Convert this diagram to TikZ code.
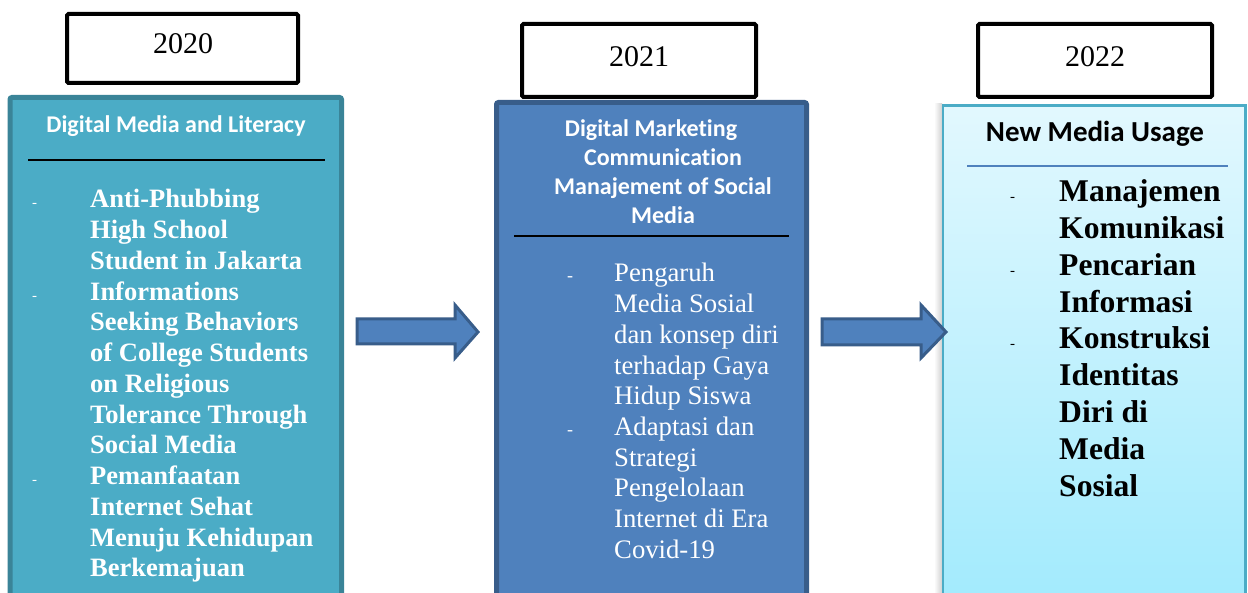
\documentclass[tikz,border=0pt]{standalone}
\usepackage{fontspec}
\setmainfont{Liberation Serif}
\newfontfamily\calibrifont[Ligatures=NoCommon]{Carlito}
\definecolor{tealfill}{HTML}{4BACC6}
\definecolor{tealline}{HTML}{3A8498}
\definecolor{bluefill}{HTML}{4F81BD}
\definecolor{blueline}{HTML}{385D8A}
\definecolor{cyantop}{HTML}{E2F8FE}
\definecolor{cyanbot}{HTML}{A0EAFD}
\tikzset{
  yearbox/.style={draw=black, line width=4pt, fill=white, rounded corners=1.5pt},
  yeartext/.style={font=\fontsize{30}{34}\selectfont, anchor=base, inner sep=0pt},
  boxtitle/.style={font=\calibrifont\bfseries\fontsize{24}{29}\selectfont, anchor=base, inner sep=0pt},
  itemtext/.style={anchor=base west, inner sep=0pt},
  dashmark/.style={font=\fontsize{15}{15}\selectfont, anchor=base west, inner sep=0pt},
  blockarrow/.style={fill=bluefill, draw=blueline, line width=3pt, line join=miter},
}
\begin{document}
\begin{tikzpicture}[x=1pt,y=-1pt]
\useasboundingbox (0,0) rectangle (1248,593);
\clip (0,0) rectangle (1248,593);
\fill[white] (0,0) rectangle (1248,593);

% ---- main boxes
\draw[fill=tealfill, draw=tealline, line width=5pt, rounded corners=2pt] (10,97.5) rectangle (341.5,620);
\draw[fill=bluefill, draw=blueline, line width=5pt, rounded corners=2pt] (496.5,102.5) rectangle (806.5,620);
\shade[left color=white, right color=black!18] (934,104) rectangle (942,620);
\shade[top color=cyantop, bottom color=cyanbot] (943,105.3) rectangle (1245.3,620);
\draw[draw=tealfill, line width=2.5pt] (943,105.3) rectangle (1245.3,620);

% ---- year boxes
\draw[yearbox] (67,14) rectangle (298,83);
\draw[yearbox] (522,24) rectangle (756,97);
\draw[yearbox] (978,24) rectangle (1212,97);
\node[yeartext] (y1) at (183,54) {2020};
\node[yeartext] (y2) at (639,67) {2021};
\node[yeartext] (y3) at (1095,67) {2022};

% ---- box 1
\node[boxtitle, text=white] (t1) at (176,133) {Digital Media and Literacy};
\draw[black, line width=2pt] (28,160.5) -- (325,160.5);
\begin{scope}[every node/.append style={text=white}]
\node[dashmark] (d1a) at (32,208) {-};
\node[dashmark] (d1b) at (32,300.25) {-};
\node[dashmark] (d1c) at (32,484.75) {-};
\node[itemtext, font=\bfseries\fontsize{26.5}{30.75}\selectfont] (i1a) at (90,208)
  {\parbox[t]{250pt}{\raggedright Anti-Phubbing\\High School\\Student in Jakarta}};
\node[itemtext, font=\bfseries\fontsize{26.5}{30.75}\selectfont] (i1b) at (90,300.25)
  {\parbox[t]{250pt}{\raggedright Informations\\Seeking Behaviors\\of College Students\\on Religious\\Tolerance Through\\Social Media}};
\node[itemtext, font=\bfseries\fontsize{26.5}{30.75}\selectfont] (i1c) at (90,484.75)
  {\parbox[t]{250pt}{\raggedright Pemanfaatan\\Internet Sehat\\Menuju Kehidupan\\Berkemajuan}};
\end{scope}

% ---- box 2
\node[boxtitle, text=white] (t2) at (663,137)
  {\parbox[t]{300pt}{\centering Digital Marketing\hspace*{24pt}\mbox{}\\Communication\\Manajement of Social\\Media}};
\draw[black, line width=2pt] (514,236) -- (789,236);
\begin{scope}[every node/.append style={text=white}]
\node[dashmark, font=\fontsize{18}{18}\selectfont] (d2a) at (567,282) {-};
\node[dashmark, font=\fontsize{18}{18}\selectfont] (d2b) at (567,435.5) {-};
\node[itemtext, font=\fontsize{26.7}{30.7}\selectfont] (i2a) at (614,282)
  {\parbox[t]{185pt}{\raggedright Pengaruh\\Media Sosial\\dan konsep diri\\terhadap Gaya\\Hidup Siswa}};
\node[itemtext, font=\fontsize{26.7}{30.7}\selectfont] (i2b) at (614,435.5)
  {\parbox[t]{185pt}{\raggedright Adaptasi dan\\Strategi\\Pengelolaan\\Internet di Era\\Covid-19}};
\end{scope}

% ---- box 3
\node[boxtitle, font=\calibrifont\bfseries\fontsize{29}{33}\selectfont] (t3) at (1095,142) {New Media Usage};
\draw[bluefill, line width=2pt] (967,166) -- (1228,166);
\node[dashmark] (d3a) at (1010,201.7) {-};
\node[dashmark] (d3b) at (1010,275.3) {-};
\node[dashmark] (d3c) at (1010,348.9) {-};
\node[itemtext, font=\bfseries\fontsize{31.6}{36.8}\selectfont] (i3a) at (1059,201.7)
  {\parbox[t]{185pt}{\raggedright Manajemen\\Komunikasi}};
\node[itemtext, font=\bfseries\fontsize{31.6}{36.8}\selectfont] (i3b) at (1059,275.3)
  {\parbox[t]{185pt}{\raggedright Pencarian\\Informasi}};
\node[itemtext, font=\bfseries\fontsize{31.6}{36.8}\selectfont] (i3c) at (1059,348.9)
  {\parbox[t]{185pt}{\raggedright Konstruksi\\Identitas\\Diri di\\Media\\Sosial}};

% ---- block arrows
\coordinate (a1tip) at (478,332);
\coordinate (a2tip) at (946,332);
\draw[blockarrow] (357,319) -- (455,319) -- (455,305) -- (a1tip) -- (455,358) -- (455,344) -- (357,344) -- cycle;
\draw[blockarrow] (822,319) -- (921,319) -- (921,305) -- (a2tip) -- (921,358) -- (921,345) -- (822,345) -- cycle;
\end{tikzpicture}
\end{document}
